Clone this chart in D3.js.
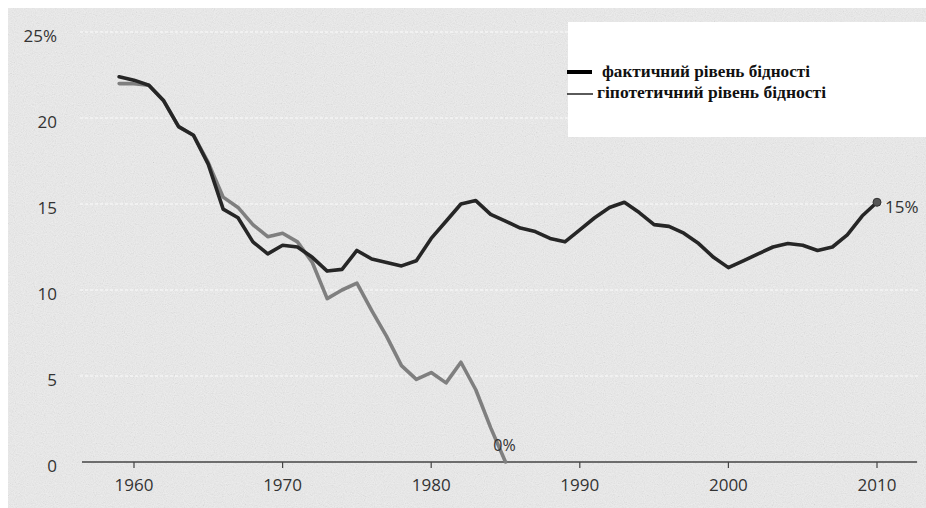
<!DOCTYPE html>
<html>
<head>
<meta charset="utf-8">
<script src="https://cdn.jsdelivr.net/npm/d3@7"></script>
<style>
  html, body { margin: 0; padding: 0; background: #ffffff; }
  svg { display: block; }
</style>
</head>
<body>
<svg id="chart" width="926" height="508"></svg>
<script>
// ---- data ----
const actualYears = d3.range(1959, 2011);
const actualRate = [22.4, 22.2, 21.9, 21.0, 19.5, 19.0, 17.3, 14.7, 14.2, 12.8,
  12.1, 12.6, 12.5, 11.9, 11.1, 11.2, 12.3, 11.8, 11.6, 11.4,
  11.7, 13.0, 14.0, 15.0, 15.2, 14.4, 14.0, 13.6, 13.4, 13.0,
  12.8, 13.5, 14.2, 14.8, 15.1, 14.5, 13.8, 13.7, 13.3, 12.7,
  11.9, 11.3, 11.7, 12.1, 12.5, 12.7, 12.6, 12.3, 12.5, 13.2,
  14.3, 15.1];
const hypoYears = d3.range(1959, 1986);
const hypoRate = [22.0, 22.0, 21.9, 21.0, 19.5, 19.0, 17.4, 15.4, 14.8, 13.8,
  13.1, 13.3, 12.8, 11.6, 9.5, 10.0, 10.4, 8.8, 7.3, 5.6,
  4.8, 5.2, 4.6, 5.8, 4.2, 2.0, 0.0];
const xTicks = [1960, 1970, 1980, 1990, 2000, 2010];
const yTicks = [0, 5, 10, 15, 20, 25];
const yTickLabels = ["0", "5", "10", "15", "20", "25%"];
const legendLabels = ["фактичний рівень бідності", "гіпотетичний рівень бідності"];
const endLabelActual = "15%";
const endLabelHypo = "0%";

// ---- setup ----
const W = 926, H = 508;
const svg = d3.select("#chart");
const x = d3.scaleLinear().domain([1960, 2010]).range([134, 877]);
const y = d3.scaleLinear().domain([0, 25]).range([462, 32]);

// background with scan-like noise
const defs = svg.append("defs");
const f = defs.append("filter").attr("id", "noise").attr("x", 0).attr("y", 0).attr("width", "100%").attr("height", "100%");
f.append("feTurbulence").attr("type", "fractalNoise").attr("baseFrequency", "0.9").attr("numOctaves", 2).attr("seed", 4);
f.append("feColorMatrix").attr("type", "matrix")
  .attr("values", "0.5 0.5 0.5 0 -0.25  0.5 0.5 0.5 0 -0.25  0.5 0.5 0.5 0 -0.25  0 0 0 0 1");

svg.append("rect").attr("x", 0).attr("y", 0).attr("width", W).attr("height", H).attr("fill", "#eeeeee");
svg.append("rect").attr("x", 0).attr("y", 0).attr("width", W).attr("height", H)
  .attr("filter", "url(#noise)").attr("opacity", 0.14);
// white scan borders
svg.append("rect").attr("x", 0).attr("y", 0).attr("width", W).attr("height", 8).attr("fill", "#fff");
svg.append("rect").attr("x", 0).attr("y", 0).attr("width", 8).attr("height", H).attr("fill", "#fff");

// faint white gridlines
svg.append("g").selectAll("line").data(yTicks.filter(d => d > 0)).join("line")
  .attr("x1", 80).attr("x2", 920)
  .attr("y1", d => y(d)).attr("y2", d => y(d))
  .attr("stroke", "#ffffff").attr("stroke-width", 2)
  .attr("stroke-dasharray", "3,2").attr("opacity", 0.45);

// x axis
const axisG = svg.append("g");
axisG.append("line")
  .attr("x1", x(1956.5)).attr("x2", x(2012.7))
  .attr("y1", y(0)).attr("y2", y(0))
  .attr("stroke", "#444").attr("stroke-width", 1.5);
axisG.selectAll("line.tick").data(xTicks).join("line").attr("class", "tick")
  .attr("x1", d => x(d)).attr("x2", d => x(d))
  .attr("y1", y(0)).attr("y2", y(0) + 6)
  .attr("stroke", "#444").attr("stroke-width", 1.2);
axisG.selectAll("text.xl").data(xTicks).join("text").attr("class", "xl")
  .attr("x", d => x(d)).attr("y", y(0) + 29)
  .attr("text-anchor", "middle")
  .attr("font-family", "'Open Sans', sans-serif").attr("font-size", 17)
  .attr("fill", "#333").text(d => d);

// y labels
svg.append("g").selectAll("text").data(yTicks).join("text")
  .attr("x", 57).attr("y", d => y(d) + 10)
  .attr("text-anchor", "end")
  .attr("font-family", "'Open Sans', sans-serif").attr("font-size", 17)
  .attr("fill", "#333").text((d, i) => yTickLabels[i]);

// lines
const line = d3.line().x(d => x(d[0])).y(d => y(d[1]));
const hypoData = hypoYears.map((yr, i) => [yr, hypoRate[i]]);
const actualData = actualYears.map((yr, i) => [yr, actualRate[i]]);

svg.append("path").datum(hypoData).attr("d", line)
  .attr("fill", "none").attr("stroke", "#7f7f7f").attr("stroke-width", 3.6)
  .attr("stroke-linejoin", "round").attr("stroke-linecap", "round");
svg.append("path").datum(actualData).attr("d", line)
  .attr("fill", "none").attr("stroke", "#262626").attr("stroke-width", 3.6)
  .attr("stroke-linejoin", "round").attr("stroke-linecap", "round");

// end marker + labels
const last = actualData[actualData.length - 1];
svg.append("circle").attr("cx", x(last[0])).attr("cy", y(last[1])).attr("r", 4)
  .attr("fill", "#555").attr("stroke", "#333").attr("stroke-width", 1);
svg.append("text").attr("x", x(last[0]) + 8).attr("y", y(last[1]) + 11)
  .attr("font-family", "'Open Sans', sans-serif").attr("font-size", 17)
  .attr("fill", "#333").text(endLabelActual);

const lastH = hypoData[hypoData.length - 1];
svg.append("text").attr("x", x(lastH[0]) - 1).attr("y", y(lastH[1]) - 11)
  .attr("text-anchor", "middle")
  .attr("font-family", "'Open Sans', sans-serif").attr("font-size", 16)
  .attr("fill", "#333").text(endLabelHypo);

// legend
const lg = svg.append("g");
lg.append("rect").attr("x", 568).attr("y", 22).attr("width", 358).attr("height", 115).attr("fill", "#fff");
lg.append("line").attr("x1", 567).attr("x2", 592).attr("y1", 72).attr("y2", 72)
  .attr("stroke", "#000").attr("stroke-width", 4);
lg.append("line").attr("x1", 567).attr("x2", 593).attr("y1", 94).attr("y2", 94)
  .attr("stroke", "#000").attr("stroke-width", 1.3);
lg.append("text").attr("x", 602).attr("y", 77)
  .attr("font-family", "'Liberation Serif', 'DejaVu Serif', serif").attr("font-weight", "bold").attr("font-size", 16)
  .attr("textLength", 208).attr("lengthAdjust", "spacingAndGlyphs")
  .attr("fill", "#111").text(legendLabels[0]);
lg.append("text").attr("x", 597).attr("y", 98)
  .attr("font-family", "'Liberation Serif', 'DejaVu Serif', serif").attr("font-weight", "bold").attr("font-size", 16)
  .attr("textLength", 229).attr("lengthAdjust", "spacingAndGlyphs")
  .attr("fill", "#111").text(legendLabels[1]);
</script>
</body>
</html>
